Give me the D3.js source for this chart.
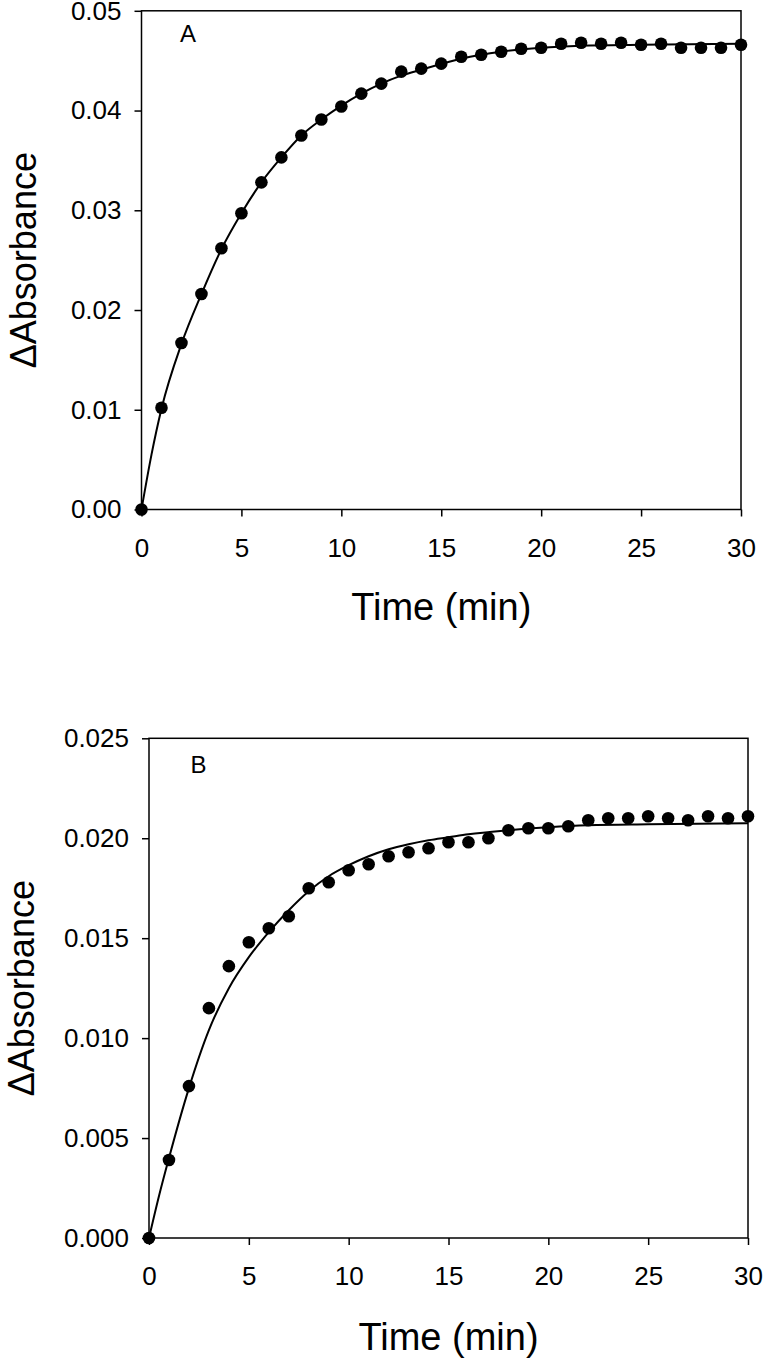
<!DOCTYPE html>
<html>
<head>
<meta charset="utf-8">
<script src="https://cdn.jsdelivr.net/npm/d3@7"></script>
<style>
  html, body { margin: 0; padding: 0; background: #fff; }
  svg { display: block; }
  text { font-family: "Liberation Sans", Arial, sans-serif; fill: #000; }
</style>
</head>
<body>
<svg id="chart" width="763" height="1358"></svg>
<script>
// ---- Data ----
const timeMin = [0,1,2,3,4,5,6,7,8,9,10,11,12,13,14,15,16,17,18,19,20,21,22,23,24,25,26,27,28,29,30];

const absA = [0.0000,0.0102,0.0167,0.0216,0.0262,0.0297,0.0328,0.0353,0.0375,0.0391,0.0404,
              0.0417,0.0427,0.0439,0.0442,0.0447,0.0454,0.0456,0.0459,0.0462,0.0463,0.0467,
              0.0468,0.0467,0.0468,0.0466,0.0467,0.0463,0.0463,0.0463,0.0466];
const fitTimeA = [0,0.5,1,2,3,4,5,6,7,8,9,10,11,12,13,14,16,18,20,22,25,30];
const fitA = [0.0000,0.0055,0.0101,0.0166,0.0216,0.0261,0.0297,0.0328,0.0353,0.0375,0.0391,0.0405,
              0.0417,0.0427,0.0435,0.0441,0.0452,0.0459,0.0463,0.0465,0.0466,0.0467];

const absB = [0.0000,0.0039,0.0076,0.0115,0.0136,0.0148,0.0155,0.0161,0.0175,0.0178,0.0184,
              0.0187,0.0191,0.0193,0.0195,0.0198,0.0198,0.0200,0.0204,0.0205,0.0205,0.0206,
              0.0209,0.0210,0.0210,0.0211,0.0210,0.0209,0.0211,0.0210,0.0211];
const fitTimeB = [0,0.5,1,2,3,4,5,6,7,8,9,10,11,12,13,14,15,16,18,20,22,25,30];
const fitB = [0.0000,0.0021,0.0040,0.0075,0.0104,0.0125,0.01405,0.0153,0.0164,0.01735,0.0181,0.01865,
              0.0191,0.01945,0.0197,0.0199,0.02005,0.0202,0.0204,0.02055,0.02065,0.0207,0.02075];

const xTicks = [0,5,10,15,20,25,30];
const yTicksA = [0,0.01,0.02,0.03,0.04,0.05];
const yTicksB = [0,0.005,0.010,0.015,0.020,0.025];

const panels = [
  { label: "A", t: timeMin, y: absA, ft: fitTimeA, fy: fitA, yTicks: yTicksA, yMax: 0.05, fmt: ".2f",
    x0: 141.5, x1: 741, yTop: 10.8, yBot: 509.5, titleY: 620, ylabX: 36, labX: 180, labY: 41.5 },
  { label: "B", t: timeMin, y: absB, ft: fitTimeB, fy: fitB, yTicks: yTicksB, yMax: 0.025, fmt: ".3f",
    x0: 149, x1: 748, yTop: 738.3, yBot: 1238, titleY: 1350, ylabX: 33.5, labX: 190.5, labY: 772.5 }
];

const svg = d3.select("#chart");
const FONT_TICK = 26;

panels.forEach(p => {
  const x = d3.scaleLinear().domain([0, 30]).range([p.x0, p.x1]);
  const y = d3.scaleLinear().domain([0, p.yMax]).range([p.yBot, p.yTop]);
  const g = svg.append("g");

  // frame
  g.append("rect")
    .attr("x", p.x0).attr("y", p.yTop)
    .attr("width", p.x1 - p.x0).attr("height", p.yBot - p.yTop)
    .attr("fill", "none").attr("stroke", "#000").attr("stroke-width", 1.5);

  // x axis
  const xa = g.append("g").attr("transform", `translate(0,${p.yBot})`)
    .call(d3.axisBottom(x).tickValues(xTicks).tickSize(7).tickSizeOuter(0).tickPadding(22).tickFormat(d3.format("d")));
  xa.select(".domain").remove();
  xa.selectAll("line").attr("stroke", "#000").attr("stroke-width", 1.5);
  xa.selectAll("text").style("font-size", FONT_TICK + "px").style("font-family", '"Liberation Sans", Arial, sans-serif').attr("fill", "#000");

  // y axis
  const ya = g.append("g").attr("transform", `translate(${p.x0},0)`)
    .call(d3.axisLeft(y).tickValues(p.yTicks).tickSize(7).tickSizeOuter(0).tickPadding(13).tickFormat(d3.format(p.fmt)));
  ya.select(".domain").remove();
  ya.selectAll("line").attr("stroke", "#000").attr("stroke-width", 1.5);
  ya.selectAll("text").style("font-size", FONT_TICK + "px").style("font-family", '"Liberation Sans", Arial, sans-serif').attr("fill", "#000");

  // fitted curve
  const fitPts = p.ft.map((t, i) => [t, p.fy[i]]);
  g.append("path")
    .datum(fitPts)
    .attr("fill", "none").attr("stroke", "#000").attr("stroke-width", 2)
    .attr("d", d3.line().x(d => x(d[0])).y(d => y(d[1])).curve(d3.curveMonotoneX));

  // points
  g.selectAll("circle.pt").data(p.t.map((t, i) => [t, p.y[i]]))
    .enter().append("circle")
    .attr("class", "pt")
    .attr("cx", d => x(d[0])).attr("cy", d => y(d[1]))
    .attr("r", 6.3).attr("fill", "#000");

  // panel letter
  g.append("text").attr("x", p.labX).attr("y", p.labY)
    .style("font-size", "24px").text(p.label);

  // axis titles
  g.append("text")
    .attr("x", (p.x0 + p.x1) / 2).attr("y", p.titleY)
    .attr("text-anchor", "middle")
    .style("font-size", "38px").text("Time (min)");

  g.append("text")
    .attr("transform", `translate(${p.ylabX},${(p.yTop + p.yBot) / 2}) rotate(-90)`)
    .attr("text-anchor", "middle")
    .style("font-size", "36px").text("ΔAbsorbance");
});
</script>
</body>
</html>
